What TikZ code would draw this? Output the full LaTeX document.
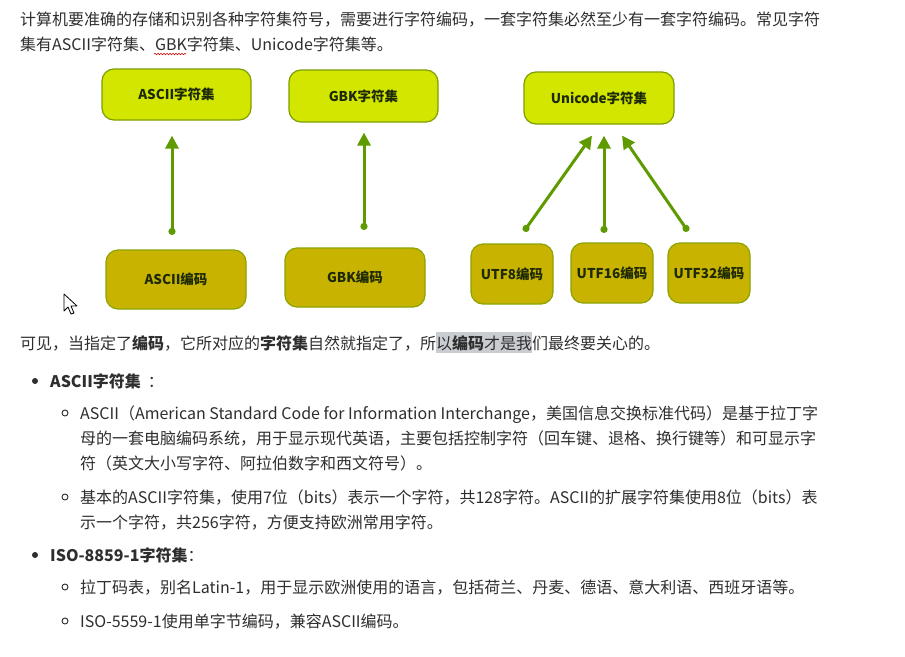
\documentclass[tikz,border=0pt]{standalone}
\usepackage{fontspec}
\setmainfont{Noto Sans CJK SC}
\usetikzlibrary{arrows.meta,calc,decorations.pathmorphing}
\definecolor{txt}{HTML}{2E2E2E}
\definecolor{setfill}{HTML}{D2E600}
\definecolor{setdraw}{HTML}{7E9E00}
\definecolor{encfill}{HTML}{C8B400}
\definecolor{encdraw}{HTML}{8AA400}
\definecolor{arrowc}{HTML}{5E9A00}
\definecolor{boxtxt}{HTML}{1E2A05}
\definecolor{hl}{HTML}{C9CDD1}
\tikzset{
  line/.style={anchor=base west, inner sep=0pt, text=txt, font=\fontsize{16}{20}\selectfont},
  setbox/.style={draw=setdraw, line width=1.2pt, fill=setfill, rounded corners=12pt, inner sep=0pt, text=boxtxt, font=\fontsize{13.5}{16}\selectfont\bfseries},
  encbox/.style={draw=encdraw, line width=1.2pt, fill=encfill, rounded corners=12pt, inner sep=0pt, text=boxtxt, font=\fontsize{13.5}{16}\selectfont\bfseries},
  conn/.style={draw=arrowc, line width=3pt, {Circle[length=7pt,width=7pt]}-{Triangle[length=13pt,width=13pt]}},
  bigdot/.style={circle, fill=txt, inner sep=0pt, minimum size=6pt},
  smalldot/.style={circle, draw=txt, line width=0.9pt, inner sep=0pt, minimum size=6pt}
}
\begin{document}
\begin{tikzpicture}[x=1pt,y=-1pt]
\useasboundingbox (0,0) rectangle (905,656);
\fill[white] (0,0) rectangle (905,656);

% intro text
\node[line] (l1) at (20,25) {计算机要准确的存储和识别各种字符集符号，需要进行字符编码，一套字符集必然至少有一套字符编码。常见字符};
\node[line] (l2) at (20,50) {集有ASCII字符集、GBK字符集、Unicode字符集等。};
\draw[red!85!black, line width=0.6pt, decorate, decoration={snake, amplitude=0.7pt, segment length=3pt}] (154,54) -- (186,54);

% diagram boxes
\node[setbox, minimum width=149pt, minimum height=51pt] (aset) at (176.5,94.5) {ASCII字符集};
\node[setbox, minimum width=149pt, minimum height=52pt] (gset) at (363.5,96) {GBK字符集};
\node[setbox, minimum width=150pt, minimum height=52pt] (uset) at (599,98) {Unicode字符集};

\node[encbox, minimum width=140pt, minimum height=59pt] (aenc) at (176,279.5) {ASCII编码};
\node[encbox, minimum width=140pt, minimum height=59pt] (genc) at (355,277.5) {GBK编码};
\node[encbox, minimum width=82pt, minimum height=60pt] (u8) at (512,274) {UTF8编码};
\node[encbox, minimum width=82pt, minimum height=60pt] (u16) at (612,273) {UTF16编码};
\node[encbox, minimum width=82pt, minimum height=60pt] (u32) at (709,273) {UTF32编码};

% connectors
\draw[conn] ($(aenc.north)+(-4,-14.5)$) -- ($(aset.south)+(-4.5,15)$);
\draw[conn] ($(genc.north)+(9,-17.5)$) -- ($(gset.south)+(0.5,10)$);
\draw[conn] ($(u8.north)+(12,-12.1)$) -- ($(uset.south)+(-7,11)$);
\draw[conn] ($(u16.north)+(-8,-9.5)$) -- ($(uset.south)+(5,11)$);
\draw[conn] ($(u32.north)+(-21,-11.1)$) -- ($(uset.south)+(23,11)$);

% mouse cursor
\filldraw[fill=white, draw=black, line width=0.8pt, line join=round] (64,294) -- (64,311) -- (68,307) -- (71,314) -- (74,313) -- (71,306) -- (77,306) -- cycle;

% highlight
\fill[hl] (436,332) rectangle (532,353);

\node[line] (p1) at (20,349) {可见，当指定了{\bfseries 编码}，它所对应的{\bfseries 字符集}自然就指定了，所以{\bfseries 编码}才是我们最终要关心的。};

\node[bigdot] (b1) at (35,381) {};
\node[line] (b1t) at (50,387) {{\bfseries ASCII字符集}\hspace{7pt}：};

\node[smalldot] (s1) at (65,413) {};
\node[line] (s1a) at (80,419) {ASCII（American Standard Code for Information Interchange，美国信息交换标准代码）是基于拉丁字};
\node[line] (s1b) at (80,444) {母的一套电脑编码系统，用于显示现代英语，主要包括控制字符（回车键、退格、换行键等）和可显示字};
\node[line] (s1c) at (80,469) {符（英文大小写字符、阿拉伯数字和西文符号）。};

\node[smalldot] (s2) at (65,497) {};
\node[line] (s2a) at (80,503) {基本的ASCII字符集，使用7位（bits）表示一个字符，共128字符。ASCII的扩展字符集使用8位（bits）表};
\node[line] (s2b) at (80,528) {示一个字符，共256字符，方便支持欧洲常用字符。};

\node[bigdot] (b2) at (35,555) {};
\node[line] (b2t) at (50,561) {{\bfseries ISO-8859-1字符集}：};

\node[smalldot] (s3) at (65,587) {};
\node[line] (s3a) at (80,593) {拉丁码表，别名Latin-1，用于显示欧洲使用的语言，包括荷兰、丹麦、德语、意大利语、西班牙语等。};
\node[smalldot] (s4) at (65,621) {};
\node[line] (s4a) at (80,627) {ISO-5559-1使用单字节编码，兼容ASCII编码。};
\end{tikzpicture}
\end{document}
